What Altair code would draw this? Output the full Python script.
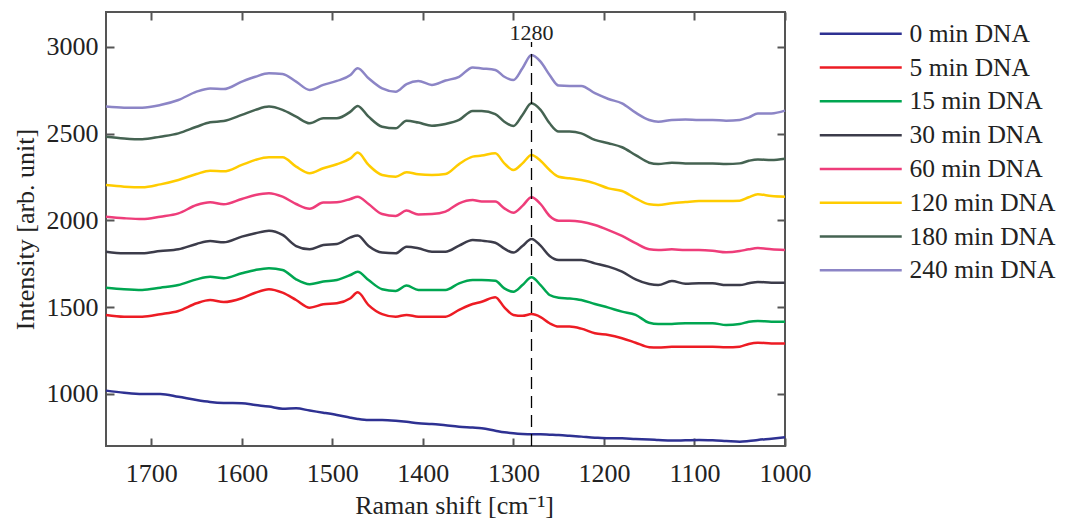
import altair as alt
import pandas as pd

# Raman shift grid [cm-1]
shift = [1750, 1730, 1710, 1690, 1670, 1650, 1635, 1620, 1600, 1585,
         1570, 1555, 1540, 1525, 1510, 1495, 1480, 1472, 1460, 1445,
         1430, 1418, 1405, 1390, 1375, 1360, 1345, 1335, 1320, 1310,
         1300, 1290, 1280, 1270, 1260, 1250, 1238, 1225, 1210, 1195,
         1180, 1165, 1150, 1140, 1125, 1110, 1095, 1080, 1065, 1050,
         1040, 1030, 1015, 1000]

dna_0 = [1019, 1007, 1000, 1000, 984, 965, 954, 948, 946, 936,
         927, 915, 917, 904, 892, 879, 863, 856, 850, 850,
         846, 840, 831, 827, 819, 811, 806, 802, 788, 779,
         773, 769, 767, 767, 765, 763, 759, 754, 748, 744,
         744, 740, 738, 735, 731, 733, 735, 733, 729, 725,
         729, 735, 742, 750]
dna_5 = [1455, 1445, 1445, 1459, 1478, 1522, 1541, 1529, 1551, 1583,
         1603, 1583, 1541, 1497, 1516, 1522, 1551, 1585, 1512, 1460,
         1445, 1455, 1445, 1445, 1445, 1484, 1518, 1531, 1557, 1499,
         1455, 1450, 1460, 1443, 1407, 1388, 1388, 1376, 1349, 1340,
         1321, 1295, 1269, 1267, 1272, 1272, 1272, 1272, 1269, 1272,
         1288, 1295, 1291, 1291]
dna_15 = [1612, 1603, 1599, 1612, 1627, 1660, 1675, 1666, 1695, 1714,
          1724, 1714, 1660, 1632, 1647, 1656, 1685, 1704, 1656, 1603,
          1593, 1624, 1599, 1599, 1599, 1637, 1656, 1656, 1652, 1608,
          1589, 1627, 1672, 1627, 1570, 1554, 1550, 1541, 1518, 1497,
          1474, 1455, 1410, 1403, 1403, 1407, 1407, 1407, 1397, 1403,
          1416, 1420, 1416, 1416]
dna_30 = [1819, 1810, 1810, 1823, 1833, 1864, 1881, 1873, 1906, 1925,
          1940, 1916, 1852, 1833, 1858, 1864, 1902, 1912, 1852, 1814,
          1810, 1848, 1839, 1819, 1819, 1854, 1887, 1883, 1871, 1837,
          1814, 1852, 1893, 1854, 1795, 1772, 1772, 1772, 1752, 1733,
          1704, 1660, 1633, 1627, 1650, 1635, 1637, 1637, 1627, 1627,
          1637, 1645, 1641, 1641]
dna_60 = [2021, 2012, 2007, 2021, 2040, 2088, 2104, 2092, 2123, 2146,
          2156, 2136, 2094, 2067, 2102, 2104, 2123, 2136, 2094, 2036,
          2025, 2056, 2034, 2036, 2050, 2098, 2117, 2108, 2108, 2069,
          2044, 2083, 2133, 2094, 2025, 1998, 1998, 1992, 1973, 1944,
          1910, 1868, 1833, 1829, 1833, 1829, 1829, 1825, 1816, 1823,
          1833, 1840, 1833, 1829]
dna_120 = [2203, 2194, 2190, 2207, 2232, 2267, 2286, 2282, 2319, 2348,
           2363, 2363, 2309, 2271, 2300, 2323, 2357, 2390, 2319, 2261,
           2251, 2277, 2265, 2261, 2267, 2324, 2367, 2373, 2386, 2328,
           2290, 2328, 2376, 2343, 2290, 2251, 2242, 2232, 2213, 2184,
           2169, 2127, 2092, 2088, 2098, 2105, 2111, 2111, 2111, 2113,
           2133, 2150, 2140, 2136]
dna_180 = [2482, 2472, 2467, 2482, 2501, 2539, 2565, 2572, 2607, 2636,
           2655, 2636, 2597, 2559, 2588, 2588, 2626, 2659, 2597, 2539,
           2530, 2574, 2563, 2545, 2555, 2578, 2630, 2630, 2612, 2568,
           2543, 2607, 2674, 2636, 2559, 2511, 2511, 2501, 2463, 2444,
           2421, 2376, 2332, 2324, 2332, 2328, 2328, 2328, 2324, 2328,
           2343, 2351, 2347, 2355]
dna_240 = [2655, 2649, 2649, 2664, 2693, 2741, 2760, 2756, 2799, 2827,
           2847, 2843, 2799, 2751, 2780, 2803, 2837, 2876, 2818, 2760,
           2741, 2785, 2803, 2780, 2805, 2827, 2881, 2875, 2866, 2827,
           2808, 2876, 2952, 2914, 2837, 2776, 2774, 2774, 2732, 2699,
           2674, 2620, 2578, 2568, 2578, 2581, 2578, 2578, 2574, 2578,
           2593, 2616, 2616, 2632]

series_names = ["0 min DNA", "5 min DNA", "15 min DNA", "30 min DNA",
                "60 min DNA", "120 min DNA", "180 min DNA", "240 min DNA"]
series_values = [dna_0, dna_5, dna_15, dna_30, dna_60, dna_120, dna_180, dna_240]
colors = ["#2e3192", "#ed1c24", "#00a651", "#3c3c4a",
          "#ee3d7a", "#ffcc00", "#456352", "#8c85c6"]

x_ticks = [1000, 1100, 1200, 1300, 1400, 1500, 1600, 1700]
y_ticks = [1000, 1500, 2000, 2500, 3000]

peak_shift = 1280
peak_line_low = 700
peak_line_high = 3027
peak_label_y = 3080

FONT = "Liberation Serif"

rows = []
for name, values in zip(series_names, series_values):
    for x, y in zip(shift, values):
        rows.append({"shift": x, "intensity": y, "sample": name})
df = pd.DataFrame(rows)

x_scale = alt.Scale(domain=[1000, 1750], reverse=True, nice=False)
y_scale = alt.Scale(domain=[700, 3200], nice=False, zero=False)

lines = (
    alt.Chart(df)
    .mark_line(strokeWidth=2.5, interpolate="monotone")
    .encode(
        x=alt.X(
            "shift:Q",
            scale=x_scale,
            axis=alt.Axis(
                orient="bottom",
                values=x_ticks,
                format="d",
                labelFlush=False,
                title="Raman shift [cm⁻¹]",
                offset=-8,
                labelPadding=14,
                titleX=348,
                titleY=75,
                titleBaseline="alphabetic",
            ),
        ),
        y=alt.Y(
            "intensity:Q",
            scale=y_scale,
            axis=alt.Axis(
                orient="left",
                values=y_ticks,
                format="d",
                title="Intensity [arb. unit]",
                offset=-8,
                labelPadding=8,
                titleX=-89,
                titleY=217,
                titleBaseline="middle",
            ),
        ),
        color=alt.Color(
            "sample:N",
            sort=series_names,
            scale=alt.Scale(domain=series_names, range=colors),
            legend=alt.Legend(
                title=None,
                orient="none",
                legendX=742,
                legendY=9,
                symbolType="M-4,0H4",
                symbolSize=420,
                symbolStrokeWidth=2.5,
                labelOffset=36,
                rowPadding=6.8,
                padding=0,
                labelFont=FONT,
                labelFontSize=25.5,
                labelColor="#222222",
                labelLimit=300,
            ),
        ),
    )
)

marker = (
    alt.Chart(pd.DataFrame({"shift": [peak_shift], "low": [peak_line_low], "high": [peak_line_high]}))
    .mark_rule(color="black", strokeWidth=1.3, strokeDash=[12, 7])
    .encode(
        x=alt.X("shift:Q", scale=x_scale,
                axis=alt.Axis(orient="top", values=x_ticks, labels=False, title=None, offset=-8)),
        y=alt.Y("low:Q", scale=y_scale,
                axis=alt.Axis(orient="right", values=y_ticks, labels=False, title=None, offset=-8)),
        y2="high:Q",
    )
)

label = (
    alt.Chart(pd.DataFrame({"shift": [peak_shift], "intensity": [peak_label_y], "text": [str(peak_shift)]}))
    .mark_text(font=FONT, fontSize=22, baseline="middle", color="#222222")
    .encode(
        x=alt.X("shift:Q", scale=x_scale, axis=None),
        y=alt.Y("intensity:Q", scale=y_scale, axis=None),
        text="text:N",
    )
)

chart = (
    alt.layer(lines, marker, label)
    .resolve_axis(x="independent", y="independent")
    .properties(
        width=679,
        height=434,
        autosize=alt.AutoSizeParams(type="none"),
        padding={"left": 98, "top": 4, "right": 273, "bottom": 76},
    )
    .configure_view(stroke="#555555", strokeWidth=2)
    .configure_axis(
        grid=False,
        domain=False,
        tickSize=8,
        tickWidth=2,
        tickColor="#555555",
        labelFont=FONT,
        labelFontSize=26,
        labelColor="#222222",
        titleFont=FONT,
        titleFontSize=26,
        titleFontWeight="normal",
        titleColor="#222222",
    )
)

chart.save("out.html", embed_options={"renderer": "svg", "actions": False})
